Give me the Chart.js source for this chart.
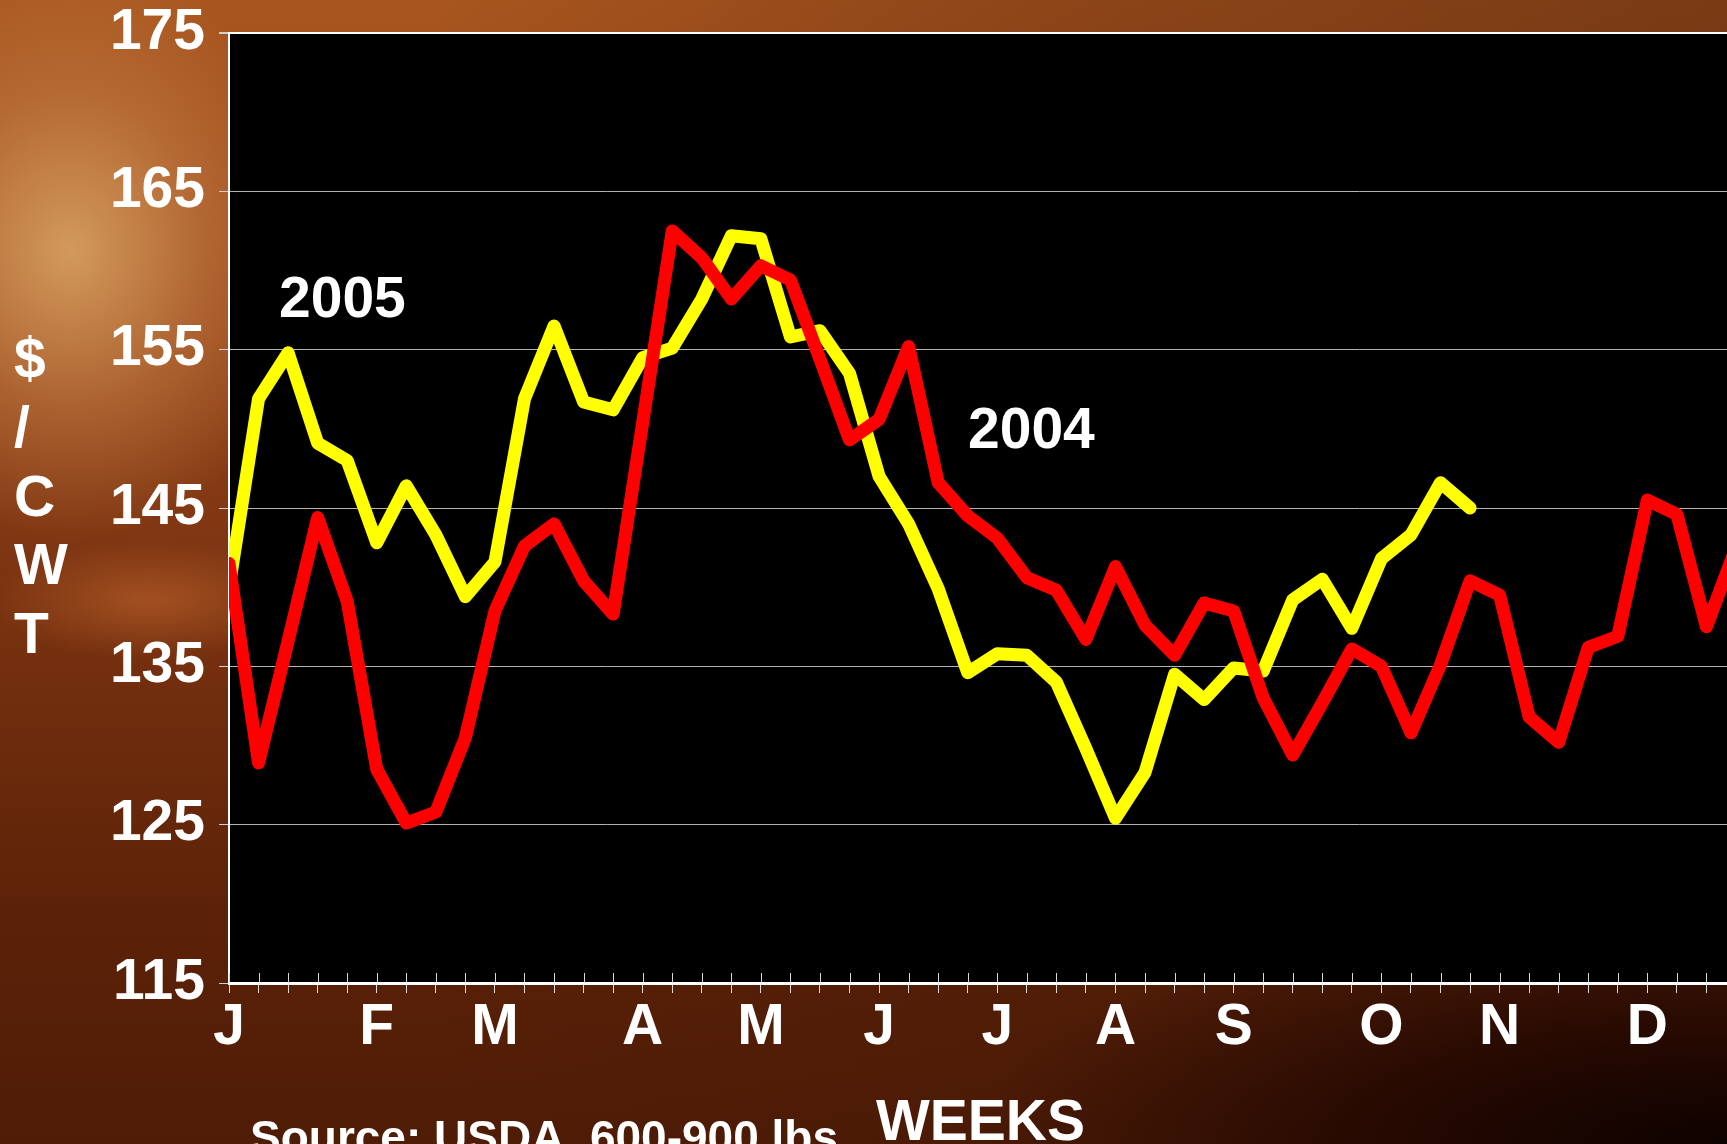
<!DOCTYPE html>
<html>
<head>
<meta charset="utf-8">
<title>Weekly feeder steer prices 2004 / 2005</title>
<script src="https://cdn.jsdelivr.net/npm/chart.js@4.4.0/dist/chart.umd.min.js"></script>
<style>
  html, body { margin: 0; padding: 0; width: 1727px; height: 1144px; overflow: hidden; }
  body {
    position: relative;
    font-family: "Liberation Sans", Arial, sans-serif;
    font-weight: bold;
    color: #fff;
    background:
      radial-gradient(ellipse 250px 290px at 70px 250px, rgba(214,158,96,0.95), rgba(196,126,68,0.55) 55%, rgba(0,0,0,0) 100%),
      radial-gradient(ellipse 160px 60px at 150px 600px, rgba(190,100,45,0.6), rgba(0,0,0,0) 100%),
      radial-gradient(ellipse 760px 240px at 1727px 1144px, rgba(14,2,0,1), rgba(30,5,0,0.75) 50%, rgba(0,0,0,0) 100%),
      linear-gradient(90deg, rgba(0,0,0,0) 0%, rgba(0,0,0,0) 25%, rgba(60,20,5,0.25) 60%, rgba(50,18,5,0.4) 100%),
      linear-gradient(180deg, #a9561f 0%, #97451a 25%, #77310f 55%, #5c2208 80%, #4f1c06 100%);
  }
  #wrap { position: absolute; left: 0; top: 0; width: 1760px; height: 1144px; }
  .lbl { position: absolute; white-space: nowrap; line-height: 1; font-size: 57px; }
  #ytitle { left: 14px; top: 324px; line-height: 68.75px; }
  #source { font-size: 46px; left: 250px; top: 1114px; }
</style>
</head>
<body>
<div id="wrap"><canvas id="priceChart" width="1760" height="1144"></canvas></div>

<div class="lbl" style="left:279px; top:269px;">2005</div>
<div class="lbl" style="left:968px; top:400px;">2004</div>
<div class="lbl" id="ytitle">$<br>/<br>C<br>W<br>T</div>
<div class="lbl" style="left:876px; top:1092px;">WEEKS</div>
<div class="lbl" id="source">Source: USDA, 600-900 lbs</div>

<script>
// weeks of the year (x categories)
const weeks = ['1','2','3','4','5','6','7','8','9','10','11','12','13','14','15','16','17','18','19','20',
  '21','22','23','24','25','26','27','28','29','30','31','32','33','34','35','36','37','38','39','40',
  '41','42','43','44','45','46','47','48','49','50','51','52'];

// month letter shown under the first week of each month
const monthTicks = ['J','','','','', 'F','','','', 'M','','','','', 'A','','','', 'M','','','',
  'J','','','', 'J','','','', 'A','','','', 'S','','','','', 'O','','','', 'N','','','','', 'D','','',''];

// $/CWT
const price2004 = [141.5, 128.9, 136.6, 144.4, 139.1, 128.5, 125.1, 125.8, 130.5, 138.5,
  142.6, 144.0, 140.4, 138.3, 150.4, 162.5, 160.8, 158.2, 160.3, 159.4,
  154.4, 149.3, 150.6, 155.2, 146.6, 144.5, 143.1, 140.6, 139.8, 136.7,
  141.3, 137.6, 135.7, 139.0, 138.5, 133.0, 129.4, 132.7, 136.1, 135.0,
  130.8, 135.1, 140.4, 139.5, 131.8, 130.2, 136.2, 136.9, 145.5, 144.6,
  137.5, 142.5];

const price2005 = [140.0, 151.9, 154.8, 149.1, 148.0, 142.8, 146.4, 143.3, 139.4, 141.6,
  151.9, 156.5, 151.7, 151.2, 154.5, 155.1, 158.2, 162.2, 162.0, 155.8,
  156.2, 153.5, 147.0, 144.0, 139.9, 134.6, 135.8, 135.7, 134.0, 129.8,
  125.4, 128.3, 134.5, 132.9, 134.9, 134.7, 139.2, 140.5, 137.4, 141.8,
  143.3, 146.6, 145.0];

const yMin = 115;
const yMax = 175;
const yStep = 10;

const tickFont = { family: '"Liberation Sans", Arial, sans-serif', size: 57, weight: 'bold', lineHeight: 1 };

// black plot area
const plotBackground = {
  id: 'plotBackground',
  beforeDraw(chart) {
    const { ctx, chartArea: a } = chart;
    ctx.save();
    ctx.fillStyle = '#000';
    ctx.fillRect(a.left, a.top, a.right - a.left, a.bottom - a.top);
    ctx.restore();
  }
};

// week ticks also cross into the plot
const innerTicks = {
  id: 'innerTicks',
  afterDraw(chart) {
    const { ctx, chartArea: a } = chart;
    const xs = chart.scales.x;
    ctx.save();
    ctx.strokeStyle = '#d9d9d9';
    ctx.lineWidth = 1;
    xs.ticks.forEach((t, i) => {
      const px = Math.round(xs.getPixelForTick(i)) + 0.5;
      ctx.beginPath();
      ctx.moveTo(px, a.bottom - 10);
      ctx.lineTo(px, a.bottom);
      ctx.stroke();
    });
    ctx.restore();
  }
};

new Chart(document.getElementById('priceChart'), {
  type: 'line',
  data: {
    labels: weeks,
    datasets: [
      {
        label: '2004',
        data: price2004,
        borderColor: '#ff0000',
        borderWidth: 13,
        borderJoinStyle: 'round',
        borderCapStyle: 'round',
        pointRadius: 0,
        pointHoverRadius: 0,
        tension: 0,
        fill: false,
        clip: 0
      },
      {
        label: '2005',
        data: price2005,
        borderColor: '#ffff00',
        borderWidth: 13,
        borderJoinStyle: 'round',
        borderCapStyle: 'round',
        pointRadius: 0,
        pointHoverRadius: 0,
        tension: 0,
        fill: false,
        clip: 0
      }
    ]
  },
  options: {
    responsive: false,
    animation: false,
    devicePixelRatio: 1,
    events: [],
    layout: { autoPadding: false, padding: { left: 0, top: 33, right: 24, bottom: 0 } },
    plugins: {
      legend: { display: false },
      tooltip: { enabled: false }
    },
    scales: {
      x: {
        offset: false,
        afterFit: (scale) => {
          scale.height = 161;
          scale.paddingLeft = 0;
          scale.paddingRight = 0;
        },
        grid: {
          drawOnChartArea: false,
          drawTicks: true,
          tickLength: 10,
          color: '#d9d9d9',
          lineWidth: 1
        },
        border: { color: '#ffffff', width: 3 },
        ticks: {
          autoSkip: false,
          maxRotation: 0,
          minRotation: 0,
          padding: 1,
          color: '#ffffff',
          font: { ...tickFont, lineHeight: 1.2 },
          callback: (val, i) => monthTicks[i]
        }
      },
      y: {
        min: yMin,
        max: yMax,
        afterFit: (scale) => {
          scale.width = 229;
          scale.paddingTop = 0;
          scale.paddingBottom = 0;
        },
        grid: {
          color: (c) => c.tick && c.tick.value === yMax ? '#ffffff' : '#b4b4b4',
          lineWidth: (c) => c.tick && c.tick.value === yMax ? 2 : 1,
          tickLength: 10,
          tickColor: '#cfcfcf'
        },
        border: { color: '#ffffff', width: 2 },
        ticks: {
          stepSize: yStep,
          padding: 14,
          color: '#ffffff',
          font: tickFont
        }
      }
    }
  },
  plugins: [plotBackground, innerTicks]
});
</script>
</body>
</html>
